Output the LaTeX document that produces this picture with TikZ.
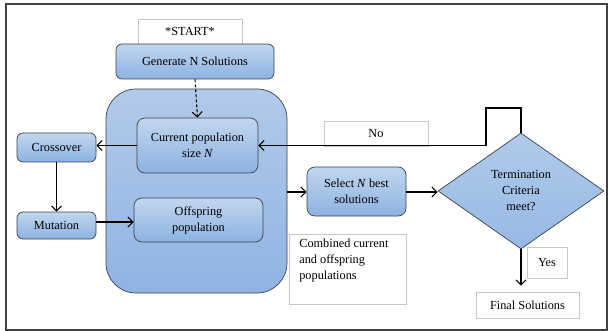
\documentclass[tikz,border=0pt]{standalone}
\usepackage{fontspec}
\setmainfont{Liberation Serif}
\usetikzlibrary{arrows.meta,shapes.geometric}
\definecolor{bluetop}{HTML}{C2D6EE}
\definecolor{bluebot}{HTML}{8CB2E1}
\definecolor{bordc}{HTML}{3A4250}
\definecolor{greyb}{HTML}{C8C8C8}
\tikzset{
  every node/.style={font=\fontsize{12.3}{16}\selectfont, inner sep=0pt},
  bluebox/.style={draw=bordc, line width=0.7pt, rounded corners=6pt, top color=bluetop, bottom color=bluebot, align=center},
  whitebox/.style={draw=greyb, line width=0.6pt, fill=white, align=center},
  arr/.style={draw=black, line width=1.1pt, -{Straight Barb[length=5pt,width=10pt,line width=1.1pt]}},
}
\begin{document}
\begin{tikzpicture}[x=1pt,y=-1pt]
\useasboundingbox (0,0) rectangle (610,331);
\draw[line width=1.4pt, draw=black!75] (6,4) rectangle (607,330);
% big container
\node[bluebox, rounded corners=30pt, top color=bluetop!92!black!0, minimum width=181, minimum height=204, top color={rgb,255:red,178;green,202;blue,234}, bottom color={rgb,255:red,143;green,180;blue,226}] (big) at (196.5,191) {};
\node[whitebox, minimum width=104, minimum height=25] (start) at (190,31.5) {*START*};
\node[bluebox, minimum width=158, minimum height=35] (gen) at (195,61.5) {Generate N Solutions};
\node[bluebox, rounded corners=8pt, minimum width=121, minimum height=55] (cur) at (197.5,145.5) {Current population\\size \textit{N}};
\node[bluebox, rounded corners=8pt, minimum width=129, minimum height=44] (off) at (198.5,220) {Offspring\\population};
\node[bluebox, minimum width=79, minimum height=29] (cross) at (56.5,147.5) {Crossover};
\node[bluebox, minimum width=79, minimum height=27] (mut) at (56.5,225.5) {Mutation};
\node[bluebox, rounded corners=8pt, minimum width=99, minimum height=49] (sel) at (356.5,191.5) {Select \textit{N} best\\solutions};
\node[diamond, draw=bordc, line width=0.7pt, top color={rgb,255:red,176;green,202;blue,235}, bottom color={rgb,255:red,150;green,185;blue,228}, minimum width=166, minimum height=116, align=center] (dia) at (521,191) {Termination\\Criteria\\meet?};
\node[whitebox, minimum width=104, minimum height=25] (no) at (376,133.5) {No};
\node[whitebox, minimum width=40, minimum height=31] (yes) at (547,262.5) {Yes};
\node[whitebox, minimum width=103, minimum height=26] (final) at (527.5,305) {Final Solutions};
\node[whitebox, anchor=north west, inner xsep=10pt, inner ysep=5pt, align=left] (comb) at (289,234) {\parbox[c][60pt][t]{97pt}{\raggedright Combined current\\and offspring\\populations}};
\coordinate (fb) at (486,108);
% connectors
\draw[arr, dash pattern=on 3pt off 2pt] (gen.south) -- (cur.north);
\draw[arr] (cur.west) -- (cur.west -| cross.east);
\draw[arr] (cross.south) -- (mut.north);
\draw[arr] (mut.east |- 0,222) -- (off.west |- 0,222);
\draw[arr] (big.east |- 0,192) -- (sel.west |- 0,192);
\draw[arr] (sel.east |- 0,192) -- (dia.west |- 0,192);
\draw[arr] (dia.north) |- (fb) |- (cur.east);
\draw[arr, shorten >=6pt] (dia.south) -- (dia.south |- final.north);
\end{tikzpicture}
\end{document}
